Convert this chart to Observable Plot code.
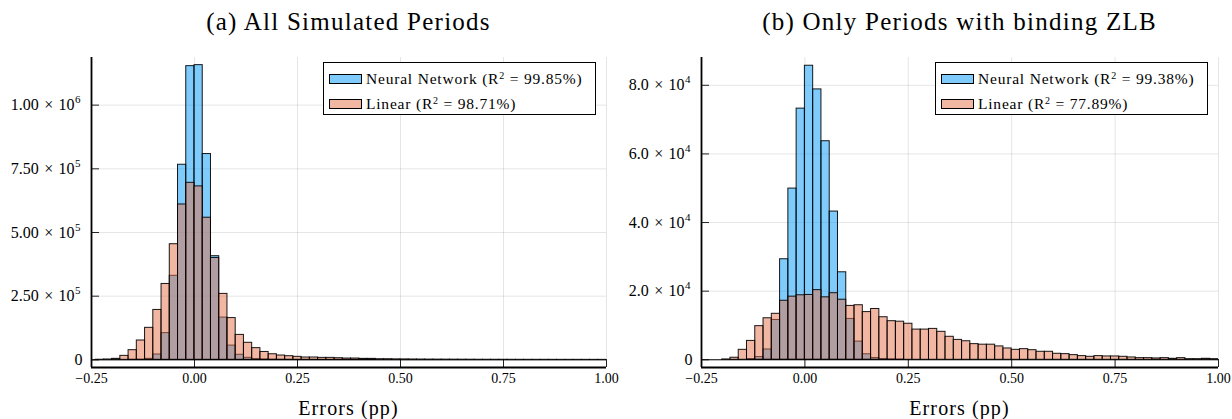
<!DOCTYPE html>
<html>
<head>
<meta charset="utf-8">
<script src="https://cdn.jsdelivr.net/npm/d3@7"></script>
<script src="https://cdn.jsdelivr.net/npm/@observablehq/plot@0.6"></script>
<style>
  body { margin: 0; background: #fff; }
  #wrap { position: relative; width: 1232px; height: 419px; font-family: "Liberation Serif", serif; color: #000; overflow: hidden; }
  .title { position: absolute; top: 8px; font-size: 25px; line-height: 28px; letter-spacing: 1.25px; text-align: center; white-space: nowrap; }
  .xlabel { position: absolute; top: 396px; font-size: 20px; line-height: 24px; letter-spacing: 1.1px; text-align: center; white-space: nowrap; }
  .panel { position: absolute; top: 40px; }
  .legend { position: absolute; top: 62px; width: 271px; height: 51px; border: 1.5px solid #000; background: #fff; font-size: 15.5px; letter-spacing: 0.8px; }
  .row { position: absolute; left: 5px; height: 18px; display: flex; align-items: center; white-space: nowrap; }
  .sw { width: 33px; height: 10px; border: 1px solid #000; margin-right: 4px; box-sizing: border-box; flex: none; }
  sup { font-size: 10px; line-height: 0; vertical-align: 5px; }
</style>
</head>
<body>
<div id="wrap">
  <div class="title" style="left:91px;width:515px;">(a) All Simulated Periods</div>
  <div class="title" style="left:701px;width:517px;">(b) Only Periods with binding ZLB</div>
  <div id="pa" class="panel" style="left:0px;"></div>
  <div id="pb" class="panel" style="left:616px;"></div>
  <div class="xlabel" style="left:91px;width:515px;">Errors (pp)</div>
  <div class="xlabel" style="left:701px;width:517px;">Errors (pp)</div>
  <div class="legend" style="left:323px;">
    <div class="row" style="top:7px;"><div class="sw" style="background:rgba(0,154,250,0.5);"></div><span>Neural Network (R<sup>2</sup> = 99.85%)</span></div>
    <div class="row" style="top:32px;"><div class="sw" style="background:rgba(227,111,71,0.5);"></div><span>Linear (R<sup>2</sup> = 98.71%)</span></div>
  </div>
  <div class="legend" style="left:935px;">
    <div class="row" style="top:7px;"><div class="sw" style="background:rgba(0,154,250,0.5);"></div><span>Neural Network (R<sup>2</sup> = 99.38%)</span></div>
    <div class="row" style="top:32px;"><div class="sw" style="background:rgba(227,111,71,0.5);"></div><span>Linear (R<sup>2</sup> = 77.89%)</span></div>
  </div>
</div>
<script>
// Histogram bins: first lower edge and width (bins of 0.02 pp)
const binStart = -0.24;
const binWidth = 0.02;

// (a) All simulated periods — counts per bin
const nnAll = [0, 0, 0, 0, 300, 800, 4000, 21000, 105000, 330000, 766000, 1153000,
  1157000, 808000, 407000, 166000, 56000, 20000, 8000, 3000, 1500, 800, 500, 300,
  200, 150, 100, 80, 60, 50, 40, 30, 20, 10, 0, 0, 0, 0, 0, 0, 0, 0, 0, 0, 0, 0,
  0, 0, 0, 0, 0, 0, 0, 0, 0, 0, 0, 0, 0, 0, 0, 0];
const linAll = [500, 1500, 4000, 15700, 38000, 76000, 125700, 196000, 298000, 454000, 610000, 695000,
  681000, 558000, 400000, 259000, 164000, 98000, 67000, 46000, 31000, 22000, 17000, 14400,
  11800, 9200, 9200, 7800, 7800, 6500, 5200, 5200, 3900, 3900, 2600, 2600, 2000, 1800,
  1500, 1300, 1100, 1000, 900, 800, 700, 600, 500, 450, 400, 350, 300, 250, 200, 200,
  150, 150, 100, 100, 100, 80, 60, 50];

// (b) Only periods with binding ZLB — counts per bin
const nnZlb = [0, 0, 0, 0, 0, 200, 800, 3000, 11600, 29300, 49900, 73200,
  85700, 78800, 63700, 43200, 25500, 11900, 5300, 1600, 500, 200, 100, 50,
  0, 0, 0, 0, 0, 0, 0, 0, 0, 0, 0, 0, 0, 0, 0, 0, 0, 0, 0, 0, 0, 0,
  0, 0, 0, 0, 0, 0, 0, 0, 0, 0, 0, 0, 0, 0, 0, 0];
const linZlb = [0, 0, 100, 600, 2900, 5500, 9800, 12100, 13400, 17200, 18400, 18800,
  18900, 20300, 18200, 19400, 17500, 15700, 15900, 13900, 14800, 12400, 11250, 11100,
  10500, 8800, 8800, 9000, 8150, 6700, 5800, 5400, 4560, 4400, 4400, 3900, 3300, 2900,
  3100, 2800, 2330, 2330, 1750, 1650, 1360, 1070, 870, 1070, 970, 970, 870, 680,
  480, 480, 390, 480, 290, 480, 190, 190, 290, 190];

// Axes
const xDomain = [-0.25, 1.0];
const xTicks = [-0.25, 0, 0.25, 0.5, 0.75, 1.0];
const xLabels = ["\u22120.25", "0.00", "0.25", "0.50", "0.75", "1.00"];
const yDomainA = [-30000, 1187000];
const yTicksA = [0, 250000, 500000, 750000, 1000000];
const yBaseA = ["0", "2.50\u2004×\u200410", "5.00\u2004×\u200410", "7.50\u2004×\u200410", "1.00\u2004×\u200410"];
const yExpA = ["", "5", "5", "5", "6"];
const yDomainB = [-2250, 88100];
const yTicksB = [0, 20000, 40000, 60000, 80000];
const yBaseB = ["0", "2.0\u2004×\u200410", "4.0\u2004×\u200410", "6.0\u2004×\u200410", "8.0\u2004×\u200410"];
const yExpB = ["", "4", "4", "4", "4"];

const blue = "#009AFA";
const orange = "#E36F47";
const font = '"Liberation Serif", serif';

function toBins(vals) {
  return vals.map((v, i) => ({x1: binStart + i * binWidth, x2: binStart + (i + 1) * binWidth, v}));
}

function panel({nn, lin, yDomain, yTicks, yBase, yExp, marginLeft, marginRight}) {
  const labels = yTicks.map((t, i) => ({t, base: yBase[i], exp: yExp[i]}));
  const xl = xTicks.map((t, i) => ({t, s: xLabels[i]}));
  return Plot.plot({
    width: 616,
    height: 379,
    marginLeft,
    marginRight,
    marginTop: 17,
    marginBottom: 52,
    style: {fontFamily: font, fontSize: "14px", background: "transparent", color: "black", overflow: "visible"},
    x: {domain: xDomain},
    y: {domain: yDomain},
    marks: [
      Plot.gridX(xTicks, {stroke: "#000", strokeOpacity: 0.1, strokeWidth: 1}),
      Plot.gridY(yTicks, {stroke: "#000", strokeOpacity: 0.1, strokeWidth: 1}),
      Plot.rect(toBins(nn), {x1: "x1", x2: "x2", y1: 0, y2: "v", fill: blue, fillOpacity: 0.5, stroke: "#000", strokeWidth: 1, strokeOpacity: 0.9, clip: true}),
      Plot.rect(toBins(lin), {x1: "x1", x2: "x2", y1: 0, y2: "v", fill: orange, fillOpacity: 0.5, stroke: "#000", strokeWidth: 1, strokeOpacity: 0.9, clip: true}),
      Plot.ruleY([0], {stroke: "#000", strokeWidth: 1}),
      Plot.ruleX([xDomain[0]], {stroke: "#000", strokeWidth: 1.8}),
      Plot.ruleY([yDomain[0]], {stroke: "#000", strokeWidth: 1.8}),
      Plot.axisX({ticks: xTicks, tickSize: -8, tickPadding: 13, tickFormat: () => "", label: null, stroke: "#000", strokeOpacity: 0.85}),
      Plot.axisY({ticks: yTicks, tickSize: -8, tickPadding: 16, tickFormat: () => "", label: null, stroke: "#000", strokeOpacity: 0.85}),
      Plot.text(xl, {x: "t", frameAnchor: "bottom", text: "s", textAnchor: "middle", lineAnchor: "top", dy: 6, fontSize: 14, fontFamily: font, fill: "#000"}),
      Plot.text(labels, {y: "t", frameAnchor: "left", text: d => d.base, textAnchor: "end", lineAnchor: "middle", dx: -17, fontSize: 16, fontFamily: font, fill: "#000", filter: d => d.exp !== ""}),
      Plot.text(labels, {y: "t", frameAnchor: "left", text: d => d.base, textAnchor: "end", lineAnchor: "middle", dx: -9, fontSize: 16, fontFamily: font, fill: "#000", filter: d => d.exp === ""}),
      Plot.text(labels, {y: "t", frameAnchor: "left", text: d => d.exp, textAnchor: "start", lineAnchor: "middle", dx: -16.5, dy: -5.5, fontSize: 11, fontFamily: font, fill: "#000", filter: d => d.exp !== ""})
    ]
  });
}

document.getElementById("pa").append(panel({nn: nnAll, lin: linAll, yDomain: yDomainA, yTicks: yTicksA, yBase: yBaseA, yExp: yExpA, marginLeft: 91, marginRight: 10}));
document.getElementById("pb").append(panel({nn: nnZlb, lin: linZlb, yDomain: yDomainB, yTicks: yTicksB, yBase: yBaseB, yExp: yExpB, marginLeft: 85, marginRight: 14}));
</script>
</body>
</html>
